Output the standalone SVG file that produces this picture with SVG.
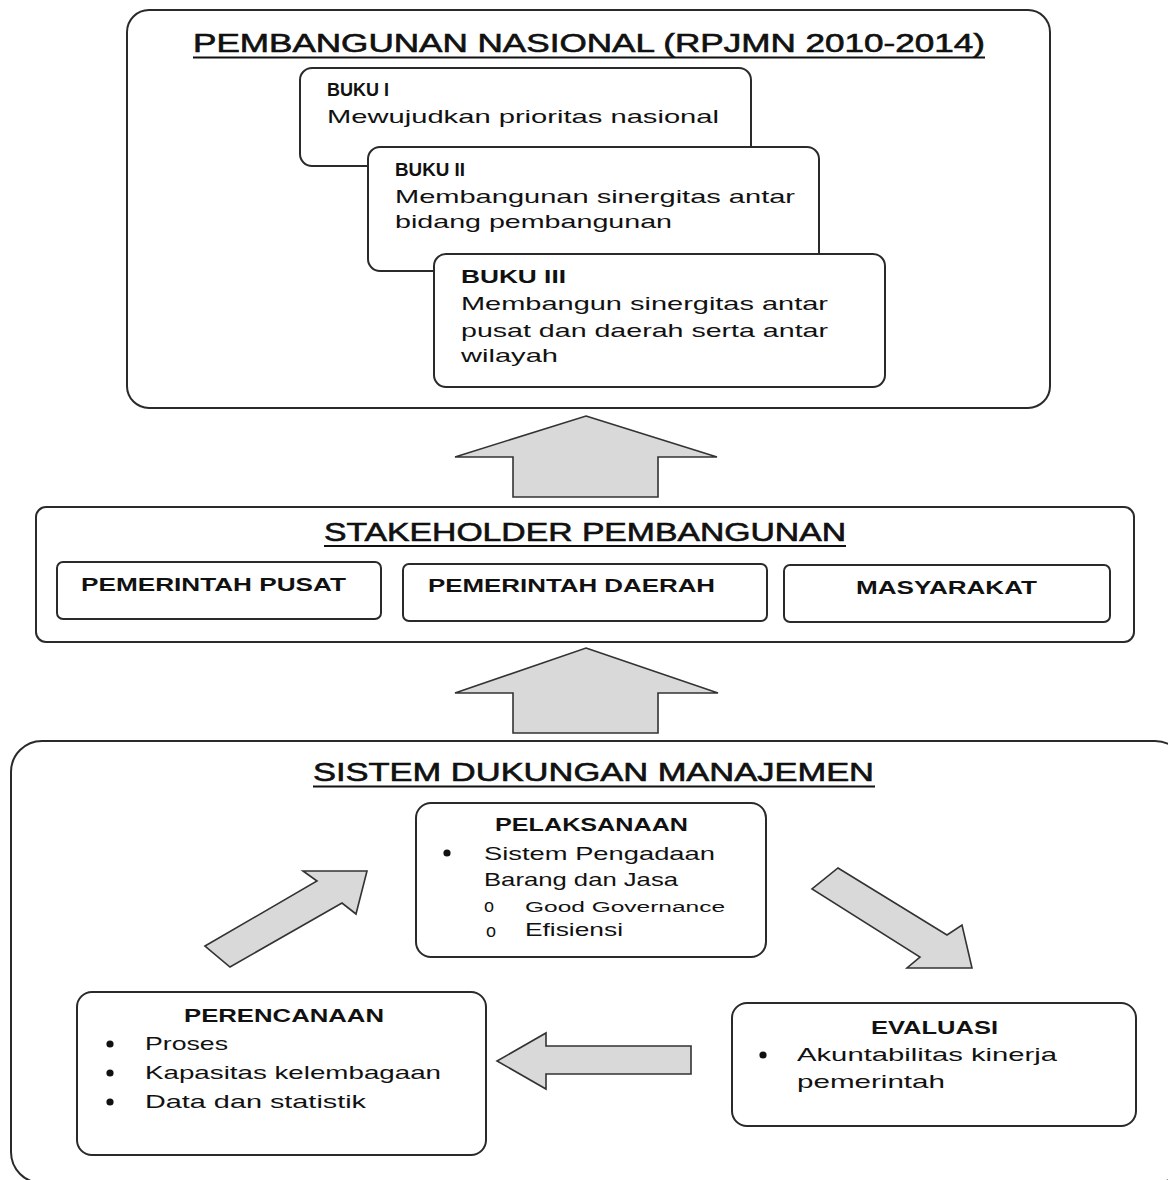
<svg xmlns="http://www.w3.org/2000/svg" width="1168" height="1180" viewBox="0 0 1168 1180">
<style>
.box{fill:#fff;stroke:#2a2a2a;stroke-width:2}
.arr{fill:#d9d9d9;stroke:#333;stroke-width:1.6;stroke-linejoin:miter}
text{font-family:"Liberation Sans",Arial,sans-serif;fill:#111}
.title{font-size:25px;stroke:#111;stroke-width:0.6}
.hb{font-size:18px;font-weight:bold}
.body{font-size:18.5px}
.small{font-size:15.5px}
.ob{font-size:18px}
.ul{stroke:#111;stroke-width:2.2}
</style>
<rect width="1168" height="1180" fill="#fff"/>

<g id="pembangunan-nasional">
<rect class="box" x="127" y="10" width="923" height="398" rx="22"/>
<text class="title" x="193" y="52" textLength="792" lengthAdjust="spacingAndGlyphs">PEMBANGUNAN NASIONAL (RPJMN 2010-2014)</text>
<line class="ul" x1="193" y1="57.5" x2="985" y2="57.5"/>
</g>
<g id="buku1">
<rect class="box" x="300" y="68" width="451" height="98" rx="12"/>
<text class="hb" x="327" y="96" textLength="62" lengthAdjust="spacingAndGlyphs">BUKU I</text>
<text class="body" x="327" y="123" textLength="392" lengthAdjust="spacingAndGlyphs">Mewujudkan prioritas nasional</text>
</g>
<g id="buku2">
<rect class="box" x="368" y="147" width="451" height="124" rx="12"/>
<text class="hb" x="395" y="176" textLength="70" lengthAdjust="spacingAndGlyphs">BUKU II</text>
<text class="body" x="395" y="203" textLength="400" lengthAdjust="spacingAndGlyphs">Membangunan sinergitas antar</text>
<text class="body" x="395" y="228" textLength="277" lengthAdjust="spacingAndGlyphs">bidang pembangunan</text>
</g>
<g id="buku3">
<rect class="box" x="434" y="254" width="451" height="133" rx="12"/>
<text class="hb" x="461" y="283" textLength="105" lengthAdjust="spacingAndGlyphs">BUKU III</text>
<text class="body" x="461" y="310" textLength="367" lengthAdjust="spacingAndGlyphs">Membangun sinergitas antar</text>
<text class="body" x="461" y="337" textLength="367" lengthAdjust="spacingAndGlyphs">pusat dan daerah serta antar</text>
<text class="body" x="461" y="362" textLength="97" lengthAdjust="spacingAndGlyphs">wilayah</text>
</g>

<g id="stakeholder">
<rect class="box" x="36" y="507" width="1098" height="135" rx="10"/>
<text class="title" x="324" y="541" textLength="522" lengthAdjust="spacingAndGlyphs">STAKEHOLDER PEMBANGUNAN</text>
<line class="ul" x1="324" y1="546" x2="846" y2="546"/>
</g>
<g id="pemerintah-pusat">
<rect class="box" x="57" y="562" width="324" height="57" rx="6"/>
<text class="hb" x="81" y="591" textLength="265" lengthAdjust="spacingAndGlyphs">PEMERINTAH PUSAT</text>
</g>
<g id="pemerintah-daerah">
<rect class="box" x="403" y="564" width="364" height="57" rx="6"/>
<text class="hb" x="428" y="592" textLength="287" lengthAdjust="spacingAndGlyphs">PEMERINTAH DAERAH</text>
</g>
<g id="masyarakat">
<rect class="box" x="784" y="565" width="326" height="57" rx="6"/>
<text class="hb" x="856" y="594" textLength="181" lengthAdjust="spacingAndGlyphs">MASYARAKAT</text>
</g>

<g id="sistem-dukungan">
<rect class="box" x="11" y="741" width="1175" height="442" rx="31"/>
<text class="title" x="313" y="781" textLength="561" lengthAdjust="spacingAndGlyphs">SISTEM DUKUNGAN MANAJEMEN</text>
<line class="ul" x1="313" y1="786.5" x2="875" y2="786.5"/>
</g>
<g id="pelaksanaan">
<rect class="box" x="416" y="803" width="350" height="154" rx="15"/>
<text class="hb" x="495" y="831" textLength="193" lengthAdjust="spacingAndGlyphs">PELAKSANAAN</text>
<circle cx="447" cy="853" r="3.6" fill="#111"/>
<text class="body" x="484" y="860" textLength="231" lengthAdjust="spacingAndGlyphs">Sistem Pengadaan</text>
<text class="body" x="484" y="886" textLength="194" lengthAdjust="spacingAndGlyphs">Barang dan Jasa</text>
<text class="ob" x="484" y="912">o</text>
<text class="small" x="525" y="912" textLength="200" lengthAdjust="spacingAndGlyphs">Good Governance</text>
<text class="ob" x="486" y="937">o</text>
<text class="body" x="525" y="936" textLength="98" lengthAdjust="spacingAndGlyphs">Efisiensi</text>
</g>
<g id="perencanaan">
<rect class="box" x="77" y="992" width="409" height="163" rx="15"/>
<text class="hb" x="184" y="1022" textLength="200" lengthAdjust="spacingAndGlyphs">PERENCANAAN</text>
<circle cx="110" cy="1044" r="3.6" fill="#111"/>
<text class="body" x="145" y="1050" textLength="83" lengthAdjust="spacingAndGlyphs">Proses</text>
<circle cx="110" cy="1073" r="3.6" fill="#111"/>
<text class="body" x="145" y="1079" textLength="296" lengthAdjust="spacingAndGlyphs">Kapasitas kelembagaan</text>
<circle cx="110" cy="1102" r="3.6" fill="#111"/>
<text class="body" x="145" y="1108" textLength="221" lengthAdjust="spacingAndGlyphs">Data dan statistik</text>
</g>
<g id="evaluasi">
<rect class="box" x="732" y="1003" width="404" height="123" rx="15"/>
<text class="hb" x="871" y="1034" textLength="127" lengthAdjust="spacingAndGlyphs">EVALUASI</text>
<circle cx="763" cy="1055" r="3.6" fill="#111"/>
<text class="body" x="797" y="1061" textLength="260" lengthAdjust="spacingAndGlyphs">Akuntabilitas kinerja</text>
<text class="body" x="797" y="1088" textLength="148" lengthAdjust="spacingAndGlyphs">pemerintah</text>
</g>

<g id="connectors">
<polygon class="arr" points="586,416 717,457 658,457 658,497 513,497 513,457 455,457"/>
<polygon class="arr" points="586,648 718,693 658,693 658,733 513,733 513,693 455,693"/>
<polygon class="arr" points="205,946 317,881 303,871 367,871 356,914 342,903 230,967"/>
<polygon class="arr" points="838,868 947,935 962,925 972,968 907,968 920,957 812,889"/>
<polygon class="arr" points="691,1046 691,1074 546,1074 546,1089 497,1061 546,1033 546,1046"/>
</g>
</svg>
